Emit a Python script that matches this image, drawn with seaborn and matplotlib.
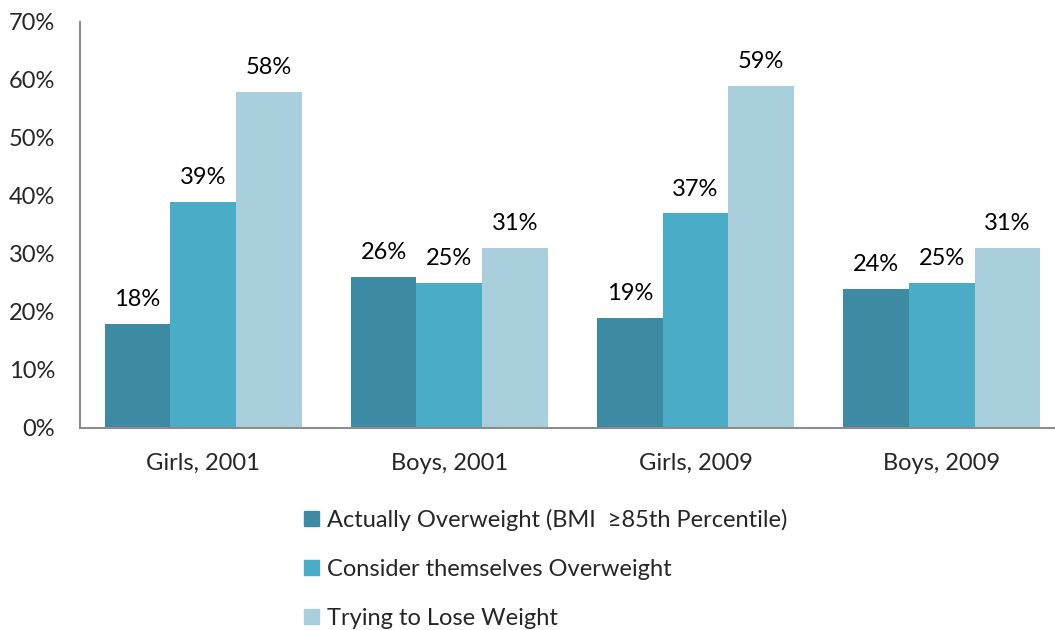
import matplotlib
matplotlib.use("Agg")
import matplotlib.pyplot as plt
import matplotlib.patches as mpatches
import seaborn as sns
import pandas as pd

groups = ["Girls, 2001", "Boys, 2001", "Girls, 2009", "Boys, 2009"]
series = [
    "Actually Overweight (BMI  \u226585th Percentile)",
    "Consider themselves Overweight",
    "Trying to Lose Weight",
]
actually_overweight = [18, 26, 19, 24]
consider_overweight = [39, 25, 37, 25]
trying_to_lose = [58, 31, 59, 31]
yticks = [0, 10, 20, 30, 40, 50, 60, 70]

colors = ["#3D8BA3", "#4AACC6", "#A9CFDC"]

rows = []
for s, vals in zip(series, [actually_overweight, consider_overweight, trying_to_lose]):
    for g, v in zip(groups, vals):
        rows.append({"group": g, "series": s, "value": v})
df = pd.DataFrame(rows)

sns.set_theme(style="white")
plt.rcParams["font.family"] = ["Lato", "DejaVu Sans"]
FS = 17

fig = plt.figure(figsize=(10.55, 6.30), dpi=100)
ax = fig.add_axes([80 / 1055, 1 - 428 / 630, 1 - 80 / 1055, 406 / 630])

sns.barplot(data=df, x="group", y="value", hue="series", order=groups,
            hue_order=series, palette=colors, width=0.8, gap=0,
            saturation=1, ax=ax, legend=False, edgecolor="none")

for container in ax.containers:
    ax.bar_label(container, labels=[f"{int(round(b.get_height()))}%" for b in container],
                 padding=10, fontsize=FS, color="#000000")

ax.set_ylim(0, 70)
ax.set_xlim(-0.5, 3.46)
ax.set_yticks(yticks)
ax.set_yticklabels([f"{t}%" for t in yticks], fontsize=FS)
ax.tick_params(axis="x", labelsize=FS, length=0, pad=18)
ax.tick_params(axis="y", length=0, pad=18)
ax.set_xlabel("")
ax.set_ylabel("")
for side in ["top", "right"]:
    ax.spines[side].set_visible(False)
for side in ["left", "bottom"]:
    ax.spines[side].set_color("#8C8C8C")
    ax.spines[side].set_linewidth(1.5)

handles = [mpatches.Patch(color=c, label=s) for c, s in zip(colors, series)]
fig.legend(handles=handles, loc="upper left", bbox_to_anchor=(304 / 1055, 1 - 509 / 630),
           frameon=False, fontsize=FS, handlelength=0.62, handleheight=0.62,
           handletextpad=0.35, labelspacing=1.18, borderpad=0, borderaxespad=0)

fig.savefig("out.png", dpi=100)
